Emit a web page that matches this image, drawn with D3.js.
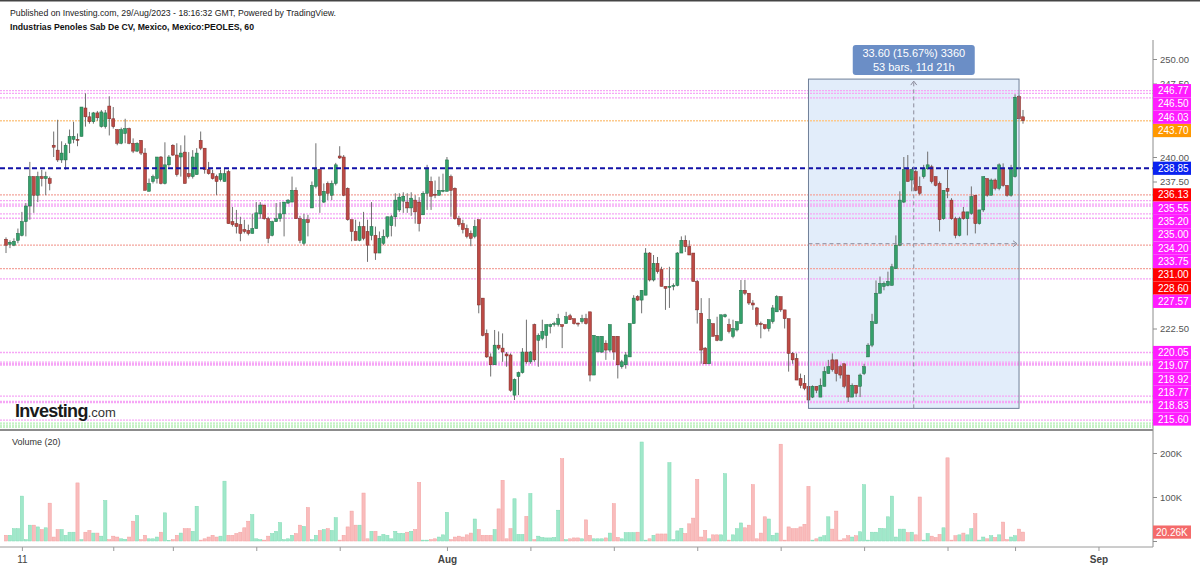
<!DOCTYPE html>
<html>
<head>
<meta charset="utf-8">
<script src="https://cdn.jsdelivr.net/npm/d3@7"></script>
<style>
  body { margin: 0; background: #fff; }
  svg { display: block; font-family: "Liberation Sans", Arial, sans-serif; }
</style>
</head>
<body>
<script>
// hourly candles, Jul 10 - Aug 29 2023
const opens = [
  231.6,231.1,231.0,231.5,232.0,233.4,235.0,238.0,236.1,238.0,
  237.8,237.8,241.2,240.7,239.7,239.7,241.4,241.8,241.8,242.1,
  245.0,244.1,243.6,244.5,243.1,243.1,245.2,243.9,242.8,241.4,
  242.4,242.9,241.4,240.6,241.7,240.4,236.5,237.5,237.8,240.0,
  237.3,239.2,241.2,240.2,240.0,240.5,238.3,238.0,238.2,241.7,
  240.9,238.7,238.3,238.0,237.7,237.5,238.5,233.4,233.2,233.1,
  232.6,232.5,232.2,232.7,234.2,235.1,233.7,232.0,233.4,233.7,
  234.2,235.3,235.4,236.6,
  233.7,231.2,233.6,234.8,237.0,238.7,
  235.4,237.3,236.1,237.3,240.1,240.0,236.8,233.6,232.4,231.5,
  232.9,232.4,232.0,232.0,230.2,231.2,231.9,233.0,233.9,234.6,
  235.5,235.4,234.8,235.6,235.4,234.1,236.3,237.5,236.2,236.1,
  236.5,236.5,238.0,236.8,233.7,233.2,232.7,232.2,231.9,
  233.6,225.6,222.0,219.6,218.8,220.8,220.5,219.9,219.8,215.7,217.6,
  218.0,220.1,219.1,222.9,221.3,221.5,221.8,222.7,222.9,222.9,
  222.9,223.0,223.8,223.5,223.05,223.2,223.5,224.2,217.75,220.1,
  220.1,221.0,220.3,221.7,221.7,218.6,218.8,219.6,223.0,225.75,
  225.4,225.9,230.2,227.45,229.15,228.5,226.8,226.7,226.8,226.9,
  230.2,231.5,230.85,230.2,227.3,224.05,220.5,218.9,223.0,221.8,
  221.3,223.7,222.9,221.7,222.35,223.0,226.4,226.1,225.1,224.6,
  223.0,222.9,222.5,223.2,224.2,225.75,224.4,223.5,219.96,219.45,
  217.4,216.9,216.6,215.5,216.6,215.5,216.6,217.9,219.3,219.3,
  218.6,218.9,217.75,215.5,216.7,216.6,217.9,219.6,220.8,223.0,
  226.1,226.8,226.9,226.9,228.6,231.0,235.4,238.7,237.65,238.5,
  237.0,238.0,238.8,239.0,238.0,237.3,233.7,236.8,235.6,233.7,
  232.0,234.4,233.7,234.25,236.1,233.2,234.6,237.8,236.1,237.65,
  236.8,238.8,237.1,236.1,238.0,246.2,244.1
];
const highs = [
  231.8,231.5,231.7,232.7,234.4,235.3,239.5,238.0,238.5,238.7,
  238.5,238.0,242.6,243.8,241.6,241.4,242.8,243.6,242.4,245.1,
  246.5,244.6,244.6,244.7,244.8,244.8,246.2,245.1,242.8,243.0,
  243.9,243.0,241.9,241.5,241.7,240.9,237.8,238.2,240.0,240.1,
  241.5,240.2,241.3,241.4,241.2,242.2,240.5,240.7,240.9,242.6,
  240.9,239.5,238.7,238.2,238.7,238.8,238.7,234.9,234.6,233.9,
  233.6,233.1,234.2,235.4,235.4,235.1,233.9,233.5,235.3,235.4,
  235.4,235.7,238.0,236.9,
  234.0,234.2,234.1,237.5,241.4,238.8,
  237.3,237.5,237.6,239.4,241.1,240.2,236.9,233.6,233.6,233.4,
  234.4,233.6,235.4,232.9,232.4,232.6,233.9,234.1,236.3,236.3,
  236.4,236.3,236.4,236.1,235.9,236.5,239.2,238.0,237.6,238.0,
  238.3,240.0,238.2,236.9,234.0,233.6,233.1,232.5,233.6,
  233.6,225.6,222.4,219.96,222.35,222.2,222.0,220.1,219.96,217.4,218.1,
  220.5,223.4,220.2,223.0,222.0,223.4,222.9,223.0,223.2,224.0,
  222.9,224.2,224.0,223.5,223.1,223.9,224.0,224.2,221.8,221.7,
  221.7,221.3,222.9,221.7,221.7,219.3,220.1,223.0,225.9,225.9,
  226.4,230.7,230.3,230.0,229.8,228.8,226.8,228.8,227.1,230.3,
  231.9,232.0,231.5,230.2,227.45,225.6,220.6,225.6,223.0,223.7,
  223.9,224.0,223.5,223.4,223.2,227.45,227.45,226.1,225.4,224.7,
  223.2,222.9,223.4,224.9,225.9,225.75,224.4,223.5,220.1,219.96,
  217.9,217.75,216.7,216.7,216.6,217.4,218.6,219.3,219.96,219.3,
  218.8,218.9,217.75,216.9,216.7,217.9,218.9,221.0,224.0,227.4,
  227.8,227.3,228.3,229.1,232.0,236.5,240.0,240.2,238.8,238.7,
  238.0,239.2,240.55,239.2,238.0,237.5,236.6,238.7,235.8,233.9,
  233.9,234.9,234.4,237.0,236.1,234.6,238.0,237.8,237.8,237.8,
  239.35,239.35,237.1,239.2,246.4,246.3,244.8
];
const lows = [
  230.2,230.7,230.9,231.2,231.9,231.9,233.6,234.3,235.4,237.0,
  236.1,236.6,240.0,239.5,239.4,238.7,240.4,241.4,241.1,242.1,
  243.1,243.4,243.4,243.7,243.0,242.9,242.2,242.9,241.2,241.3,
  241.4,241.3,240.4,240.5,240.2,236.6,236.5,237.3,237.3,237.2,
  237.2,239.0,240.1,238.0,238.0,237.3,237.8,237.8,238.2,240.7,
  238.3,238.2,237.7,236.1,237.5,237.5,233.2,232.9,232.2,231.4,
  232.2,232.0,232.2,232.7,233.7,233.6,231.2,231.9,233.4,233.4,
  231.9,235.2,235.4,233.7,
  231.2,231.0,231.9,234.8,236.8,234.3,
  235.3,235.6,235.6,237.1,239.8,236.0,233.5,231.4,231.5,231.4,
  231.5,229.3,231.5,229.5,230.2,231.0,231.7,231.9,232.9,234.4,
  234.3,234.3,234.0,233.2,232.4,234.1,234.6,234.6,235.8,236.1,
  236.4,236.5,233.9,233.6,232.9,232.2,231.7,230.9,231.7,
  224.05,221.7,219.5,217.6,218.8,220.3,219.1,218.6,216.05,215.2,215.7,
  217.9,218.9,218.9,219.1,218.6,221.3,220.5,222.0,222.7,222.7,
  220.5,223.0,223.4,222.9,222.7,223.0,222.9,217.1,217.75,220.1,
  220.0,219.3,220.1,219.3,217.4,218.4,218.4,219.6,223.0,225.3,
  224.05,225.9,227.3,227.3,228.1,226.8,224.4,224.6,226.4,226.8,
  230.2,230.3,230.0,227.3,223.0,218.9,218.9,218.9,221.7,221.2,
  221.2,223.6,222.0,221.5,222.2,223.0,225.9,224.9,224.4,222.7,
  221.5,222.4,222.2,223.0,224.2,224.2,222.5,218.1,218.9,217.24,
  216.4,216.2,215.2,215.4,215.9,215.5,216.6,217.9,218.1,217.1,
  217.4,216.4,215.0,215.5,215.5,215.5,217.75,219.6,220.6,223.0,
  226.1,226.4,226.8,226.9,228.6,230.9,235.3,237.5,236.5,236.5,
  236.1,237.8,238.7,237.3,237.0,232.4,233.6,235.8,233.6,231.7,
  231.9,233.6,232.0,234.1,232.2,233.1,234.4,235.95,236.1,236.6,
  236.6,236.97,235.95,235.95,237.9,243.9,243.4
];
const closes = [
  231.0,231.3,231.4,232.2,233.4,235.0,238.0,236.1,238.0,237.8,
  238.0,237.3,241.0,239.7,240.4,241.2,242.1,242.1,241.7,245.1,
  244.1,243.6,244.5,244.0,244.6,244.5,243.9,243.1,241.4,242.8,
  242.9,241.4,240.6,241.4,240.4,236.6,237.3,238.0,240.0,237.3,
  239.2,240.0,240.2,238.2,240.4,237.3,238.0,240.0,240.4,240.9,
  238.7,238.3,237.8,237.5,238.3,238.3,233.2,233.1,232.9,232.2,
  232.4,232.2,232.7,234.3,235.1,233.7,231.7,233.4,233.7,234.2,
  235.4,235.6,236.6,233.7,
  231.5,233.6,233.3,237.1,238.7,236.1,
  236.5,236.3,237.3,239.2,239.9,236.1,233.6,232.4,231.5,232.9,
  231.7,231.0,232.9,230.2,231.7,231.9,233.9,233.9,235.6,235.9,
  236.0,234.8,235.8,234.4,233.2,236.3,238.8,236.0,236.1,236.6,
  236.6,239.7,236.6,233.7,233.1,232.6,231.9,231.7,232.9,
  224.9,221.8,219.6,218.8,220.8,220.5,220.1,219.7,216.2,217.3,218.0,
  220.1,219.1,220.1,219.3,221.8,222.2,222.9,222.9,223.0,223.5,
  222.7,223.7,223.4,223.0,222.95,223.5,223.0,217.75,221.8,221.7,
  221.7,220.3,222.9,220.1,218.8,219.1,219.8,223.0,225.6,225.4,
  226.4,230.2,227.45,229.15,228.3,226.8,226.6,226.8,226.9,230.2,
  231.5,230.85,230.0,227.3,224.4,220.3,218.9,223.4,221.7,221.3,
  223.9,223.9,222.2,222.5,223.2,226.4,226.1,225.1,224.9,222.9,
  222.9,222.5,223.4,224.6,225.75,224.4,223.5,219.96,219.3,217.24,
  216.7,216.4,215.2,216.6,216.2,216.7,218.1,218.6,218.3,217.9,
  217.75,216.6,215.5,216.7,215.9,217.75,218.6,220.8,223.2,226.1,
  227.1,227.1,227.3,228.8,231.0,235.6,238.7,237.5,238.7,236.6,
  236.3,238.8,239.2,237.5,237.1,233.6,236.6,236.5,233.7,232.0,
  233.7,233.7,234.4,235.95,233.2,234.6,238.0,236.1,237.65,236.8,
  239.2,237.1,236.1,238.7,246.1,243.9,243.7
];
// volume, thousands
const volumesK = [
  13,13,28,28,102,3,36,36,32,26, 30,86,9,26,26,13,20,20,132,3,
  20,24,18,18,11,92,3,11,9,5, 4,9,45,58,3,13,5,5,9,20,
  64,1,3,13,18,28,28,22,79,2, 5,9,13,9,11,136,13,13,17,20,
  30,45,60,5,3,2,11,17,22,42, 3,5,13,17,36,33,76,3,13,24,
  26,28,24,53,2,13,32,68,36,36, 109,5,22,22,11,15,13,5,22,17,
  17,20,22,26,133,2,2,3,5,9, 14,65,3,9,11,9,14,18,50,26,
  13,13,13,26,73,138,5,28,96,15, 15,56,108,3,11,8,7,7,8,70,
  187,3,5,7,7,5,48,13,5,5,
  5,7,18,85,8,5,19,19,19,20, 225,2,5,13,16,16,16,178,3,23,
  29,17,39,52,140,9,24,5,14,14, 14,153,2,14,28,41,30,36,128,5,
  18,55,50,13,18,220,2,32,28,28, 32,38,124,2,5,9,12,55,27,68,
  2,5,12,9,12,21,128,2,20,20, 29,28,55,102,9,27,27,19,20,14,
  100,2,17,11,8,15,30,189,2,12, 14,18,14,28,62,2,9,5,12,8,
  14,43,3,9,12,27,20.26
];

// horizontal levels drawn on the chart, with their right-axis labels
const levelPrices = [246.77, 246.50, 246.03, 243.70, 238.85, 236.13, 235.55, 235.20, 235.00, 234.20,
                     233.75, 231.00, 228.60, 227.57, 220.05, 219.07, 218.92, 218.77, 218.83, 215.60];
const levelKinds  = ['m','m','m','o','b','r','m','m','m','m',
                     'm','r','r','m','m','m','m','m','m','m'];
const extraPink = [215.05, 214.95, 213.15];
const extraGreen = [212.85, 212.65, 212.45];

const priceTicks = [250, 247.5, 245, 242.5, 240, 237.5, 235, 232.5, 230, 227.5, 225, 222.5, 220, 217.5, 215];
const volTicks = [0, 100, 200];
const xTickIdx = [4, 27, 42, 63, 84, 111, 132, 153, 174, 195, 216, 237, 254, 275];
const xTickText = {4: '11', 111: 'Aug', 275: 'Sep'};

// price range measure drawing
const measure = {from: 202, to: 255, low: 214.35, high: 247.95};
const measureText = ['33.60 (15.67%) 3360', '53 bars, 11d 21h'];

const header1 = 'Published on Investing.com, 29/Aug/2023 - 18:16:32 GMT, Powered by TradingView.';
const header2 = 'Industrias Penoles Sab De CV, Mexico, Mexico:PEOLES, 60';

// ---------------------------------------------------------------
const W = 1200, H = 566, axisX = 1153;
const lineCol = {m: '#f6a6f6', o: '#fcc98c', b: '#1212a8', r: '#f4a49c'};
const labCol  = {m: '#ff1cff', o: '#ff9800', b: '#0a22f0', r: '#ff0000'};
const fontFam = '"Liberation Sans", Arial, sans-serif';

const svg = d3.select('body').append('svg').attr('width', W).attr('height', H);

const x = d3.scaleLinear().domain([0, opens.length - 1]).range([6, 1023]);
const y = d3.scaleLinear().domain([240, 250]).range([157, 59]);
const yv = d3.scaleLinear().domain([0, 200]).range([541, 453]);

svg.append('rect').attr('width', W).attr('height', 1.5).attr('fill', '#444');

svg.append('text').attr('x', 10).attr('y', 16).attr('font-size', 9.5).attr('fill', '#222')
  .attr('textLength', 326).attr('lengthAdjust', 'spacingAndGlyphs').text(header1);
svg.append('text').attr('x', 10).attr('y', 29.5).attr('font-size', 9.5).attr('font-weight', 'bold').attr('fill', '#111')
  .attr('textLength', 244).attr('lengthAdjust', 'spacingAndGlyphs').text(header2);

svg.append('clipPath').attr('id', 'pane').append('rect')
  .attr('x', 0).attr('y', 40).attr('width', axisX).attr('height', 390);
const pane = svg.append('g').attr('clip-path', 'url(#pane)');

// measure box fill (behind candles)
const bx0 = x(measure.from), bx1 = x(measure.to);
const by0 = y(measure.high), by1 = y(measure.low);
pane.append('rect').attr('x', bx0).attr('y', by0).attr('width', bx1 - bx0).attr('height', by1 - by0)
  .attr('fill', '#e2edfa');

// levels
const lv = levelPrices.map((p, i) => ({p, k: levelKinds[i]}));
pane.selectAll('line.lv').data(lv.filter(d => d.k !== 'b')).enter().append('line')
  .attr('x1', 0).attr('x2', axisX).attr('y1', d => y(d.p)).attr('y2', d => y(d.p))
  .attr('stroke', d => lineCol[d.k]).attr('stroke-width', 1.3).attr('stroke-dasharray', '2,1');
pane.selectAll('line.xp').data(extraPink).enter().append('line')
  .attr('x1', 0).attr('x2', axisX).attr('y1', d => y(d)).attr('y2', d => y(d))
  .attr('stroke', lineCol.m).attr('stroke-width', 1.3).attr('stroke-dasharray', '2,1');
pane.selectAll('line.xg').data(extraGreen).enter().append('line')
  .attr('x1', 0).attr('x2', axisX).attr('y1', d => y(d)).attr('y2', d => y(d))
  .attr('stroke', '#b4eeb4').attr('stroke-width', 1.3).attr('stroke-dasharray', '2,1');

// candles
const bars = opens.map((o, i) => ({i, o, h: highs[i], l: lows[i], c: closes[i], v: volumesK[i]}));
const up = d => d.c >= d.o;
pane.selectAll('line.wick').data(bars).enter().append('line')
  .attr('x1', d => x(d.i)).attr('x2', d => x(d.i))
  .attr('y1', d => y(d.h)).attr('y2', d => y(d.l))
  .attr('stroke', '#707070').attr('stroke-width', 1);
pane.selectAll('rect.body').data(bars).enter().append('rect')
  .attr('x', d => x(d.i) - 1.5).attr('width', 3)
  .attr('y', d => y(Math.max(d.o, d.c)))
  .attr('height', d => Math.max(0.8, Math.abs(y(d.o) - y(d.c))))
  .attr('fill', d => up(d) ? '#34a06a' : '#bd4a45')
  .attr('stroke', d => up(d) ? '#1d6b44' : '#7a2a27').attr('stroke-width', 0.5);

// blue level on top
lv.filter(d => d.k === 'b').forEach(d => {
  pane.append('line').attr('x1', 0).attr('x2', axisX).attr('y1', y(d.p)).attr('y2', y(d.p))
    .attr('stroke', lineCol.b).attr('stroke-width', 2).attr('stroke-dasharray', '5,3');
});

// measure border, arrows, label
pane.append('rect').attr('x', bx0).attr('y', by0).attr('width', bx1 - bx0).attr('height', by1 - by0)
  .attr('fill', 'none').attr('stroke', '#6f7f98').attr('stroke-width', 1);
const mx = x((measure.from + measure.to) / 2), my = y((measure.low + measure.high) / 2);
pane.append('line').attr('x1', mx).attr('x2', mx).attr('y1', by1).attr('y2', by0 + 2)
  .attr('stroke', '#8a8a9a').attr('stroke-dasharray', '4,3');
pane.append('path').attr('d', `M${mx - 3},${by0 + 6}L${mx},${by0 + 2}L${mx + 3},${by0 + 6}`)
  .attr('fill', 'none').attr('stroke', '#8a8a9a');
pane.append('line').attr('x1', bx0).attr('x2', bx1 - 2).attr('y1', my).attr('y2', my)
  .attr('stroke', '#8a8a9a').attr('stroke-dasharray', '4,3');
pane.append('path').attr('d', `M${bx1 - 6},${my - 3}L${bx1 - 2},${my}L${bx1 - 6},${my + 3}`)
  .attr('fill', 'none').attr('stroke', '#8a8a9a');

svg.append('rect').attr('x', mx - 61).attr('y', by0 - 34).attr('width', 122).attr('height', 30)
  .attr('rx', 3).attr('fill', '#6b8ec6');
measureText.forEach((t, k) => {
  svg.append('text').attr('x', mx).attr('y', by0 - 22 + k * 14).attr('text-anchor', 'middle')
    .attr('font-size', 11).attr('fill', '#fff').text(t);
});

// watermark
const wm = svg.append('text').attr('x', 15).attr('y', 417).attr('fill', '#1a1a1a');
wm.append('tspan').attr('font-size', 18).attr('font-weight', 'bold').attr('letter-spacing', -0.7).text('Investing');
wm.append('tspan').attr('font-size', 13).attr('fill', '#333').text('.com');

// pane separator
svg.append('line').attr('x1', 0).attr('x2', axisX).attr('y1', 430).attr('y2', 430)
  .attr('stroke', '#666').attr('stroke-width', 1.5);

// volume pane
svg.append('text').attr('x', 12).attr('y', 445).attr('font-size', 9).attr('fill', '#333').text('Volume (20)');
svg.selectAll('rect.vol').data(bars).enter().append('rect')
  .attr('x', d => x(d.i) - 1.6).attr('width', 3.2)
  .attr('y', d => yv(d.v)).attr('height', d => yv(0) - yv(d.v))
  .attr('fill', d => up(d) ? '#a0e8ca' : '#f9bcbc')
  .attr('stroke', d => up(d) ? '#80dab4' : '#f3a0a0').attr('stroke-width', 0.5);

// level labels, stacked like the price scale does
let prev = -Infinity;
const labs = lv.map(d => { const yy = Math.max(y(d.p), prev + 13.3); prev = yy; return {...d, yy}; });
// scale labels that sit under a coloured label are covered in the picture
const freeTicks = priceTicks.filter(t => labs.every(l => Math.abs(l.yy - y(t)) > 7));

// right axis
svg.append('line').attr('x1', axisX).attr('x2', axisX).attr('y1', 40).attr('y2', 547)
  .attr('stroke', '#8c8c8c');
const yAxis = d3.axisRight(y).tickValues(priceTicks).tickFormat(d => freeTicks.includes(d) ? d3.format('.2f')(d) : '').tickSize(4);
svg.append('g').attr('transform', `translate(${axisX},0)`).call(yAxis)
  .call(g => g.select('.domain').remove())
  .call(g => g.selectAll('line').attr('stroke', '#8c8c8c'))
  .call(g => g.selectAll('text').attr('fill', '#555').attr('font-size', 9.5).attr('font-family', fontFam));

const lastV = bars[bars.length - 1];
const vAxis = d3.axisRight(yv).tickValues(volTicks)
  .tickFormat(d => d === 0 ? '' : d + 'K').tickSize(4);
svg.append('g').attr('transform', `translate(${axisX},0)`).call(vAxis)
  .call(g => g.select('.domain').remove())
  .call(g => g.selectAll('line').attr('stroke', '#8c8c8c'))
  .call(g => g.selectAll('text').attr('fill', '#555').attr('font-size', 9.5).attr('font-family', fontFam));

const lg = svg.selectAll('g.lab').data(labs).enter().append('g');
lg.append('rect').attr('x', axisX).attr('y', d => d.yy - 6.6).attr('width', 38).attr('height', 13.2)
  .attr('fill', d => labCol[d.k]);
lg.append('text').attr('x', axisX + 5).attr('y', d => d.yy + 3.5).attr('font-size', 10).attr('fill', '#fff')
  .text(d => d.p.toFixed(2));

// last volume label
svg.append('rect').attr('x', axisX).attr('y', yv(lastV.v) - 6.6).attr('width', 38).attr('height', 13.2)
  .attr('fill', up(lastV) ? '#4cc790' : '#f46a6a');
svg.append('text').attr('x', axisX + 3).attr('y', yv(lastV.v) + 3.5).attr('font-size', 10).attr('fill', '#fff')
  .text(lastV.v.toFixed(2) + 'K');

// time axis
svg.append('line').attr('x1', 0).attr('x2', axisX).attr('y1', 547).attr('y2', 547).attr('stroke', '#9a9a9a');
const xAxis = d3.axisBottom(x).tickValues(xTickIdx).tickFormat(d => xTickText[d] || '').tickSize(4);
svg.append('g').attr('transform', 'translate(0,547)').call(xAxis)
  .call(g => g.select('.domain').remove())
  .call(g => g.selectAll('line').attr('stroke', '#9a9a9a'))
  .call(g => g.selectAll('text').attr('fill', '#444').attr('font-size', 10).attr('dy', '0.9em')
    .attr('font-weight', d => d === 4 ? 'normal' : 'bold').attr('font-family', fontFam));
</script>
</body>
</html>
